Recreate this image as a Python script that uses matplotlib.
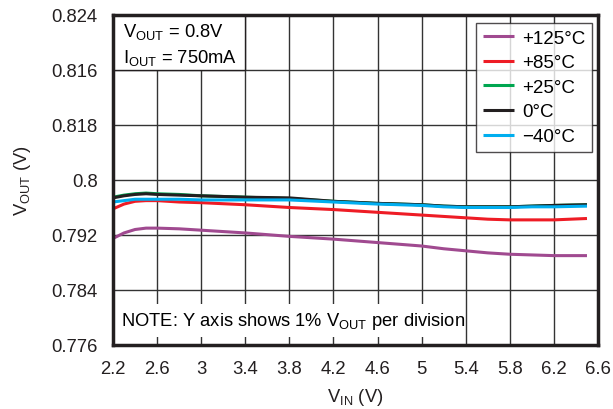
import matplotlib
matplotlib.use("Agg")
import matplotlib.pyplot as plt
from matplotlib.patches import Rectangle

plt.rcParams['font.family'] = ['Liberation Sans', 'DejaVu Sans']
plt.rcParams['mathtext.fontset'] = 'custom'
plt.rcParams['mathtext.rm'] = 'Liberation Sans'
plt.rcParams['mathtext.it'] = 'Liberation Sans:italic'
plt.rcParams['mathtext.bf'] = 'Liberation Sans:bold'

# Data
vin = [2.2, 2.3, 2.4, 2.5, 2.6, 2.8, 3.0, 3.4, 3.8, 4.2, 4.6, 5.0, 5.2, 5.4, 5.6, 5.8, 6.0, 6.2, 6.5]
t125 = [0.7915, 0.7923, 0.7928, 0.7930, 0.7930, 0.7929, 0.7927, 0.7923, 0.7918, 0.7914, 0.7909, 0.7904, 0.7900, 0.7897, 0.7894, 0.7892, 0.7891, 0.7890, 0.7890]
t85 = [0.7958, 0.7965, 0.7969, 0.7970, 0.7970, 0.7968, 0.7967, 0.7964, 0.7960, 0.7957, 0.7953, 0.7949, 0.7947, 0.7945, 0.7943, 0.7942, 0.7942, 0.7942, 0.7944]
t25 = [0.7975, 0.7978, 0.7980, 0.7981, 0.7980, 0.7979, 0.7977, 0.7975, 0.7973, 0.7969, 0.7966, 0.7964, 0.7962, 0.7961, 0.7961, 0.7961, 0.7962, 0.7963, 0.7964]
t0 = [0.7974, 0.7977, 0.7979, 0.7980, 0.7979, 0.7978, 0.7977, 0.7975, 0.7974, 0.7969, 0.7966, 0.7964, 0.7962, 0.7961, 0.7961, 0.7961, 0.7962, 0.7963, 0.7964]
tm40 = [0.7968, 0.7970, 0.7972, 0.7972, 0.7972, 0.7972, 0.7971, 0.7971, 0.7971, 0.7968, 0.7965, 0.7963, 0.7961, 0.7960, 0.7960, 0.7960, 0.7961, 0.7961, 0.7962]

series = [
    (t125, '#a04a90', '+125°C'),
    (t85, '#ee1c25', '+85°C'),
    (t25, '#00a650', '+25°C'),
    (t0, '#231f20', '0°C'),
    (tm40, '#00aeef', '\u221240°C'),
]

xticks = [2.2, 2.6, 3.0, 3.4, 3.8, 4.2, 4.6, 5.0, 5.4, 5.8, 6.2, 6.6]
xticklabels = ['2.2', '2.6', '3', '3.4', '3.8', '4.2', '4.6', '5', '5.4', '5.8', '6.2', '6.6']
yticks = [0.776, 0.784, 0.792, 0.800, 0.808, 0.816, 0.824]
yticklabels = ['0.776', '0.784', '0.792', '0.8', '0.818', '0.816', '0.824']

fig = plt.figure(figsize=(6.13, 4.10), dpi=100)
ax = fig.add_axes([113/613, 1-346/410, (598-113)/613, (346-16)/410])

ax.set_xlim(2.2, 6.6)
ax.set_ylim(0.776, 0.824)
ax.set_xticks(xticks)
ax.set_xticklabels(xticklabels)
ax.set_yticks(yticks)
ax.set_yticklabels(yticklabels)
ax.tick_params(length=0, labelsize=13.3, colors='#231f20')
ax.tick_params(axis='y', pad=11)
ax.tick_params(axis='x', pad=11)
ax.grid(True, color='#333333', linewidth=1.0, zorder=0)
ax.set_axisbelow(True)
for s in ax.spines.values():
    s.set_linewidth(2.5)
    s.set_color('#231f20')

# top-left annotation box
ax.add_patch(Rectangle((2.2, 0.816), 1.2, 0.008, facecolor='white',
                       edgecolor='#231f20', linewidth=1.0, zorder=1.5))
ax.text(2.29, 0.82167, r'V$_{\mathrm{OUT}}$ = 0.8V', fontsize=13.2, va='center', zorder=3)
ax.text(2.29, 0.81796, r'I$_{\mathrm{OUT}}$ = 750mA', fontsize=13.2, va='center', zorder=3)

# NOTE box
ax.add_patch(Rectangle((2.2, 0.7772), 3.15, 0.0048, facecolor='white',
                       edgecolor='none', zorder=1.5))
ax.text(2.27, 0.7795, r'NOTE: Y axis shows 1% V$_{\mathrm{OUT}}$ per division',
        fontsize=13.2, va='center', zorder=3)

for ys, c, lab in series:
    ax.plot(vin, ys, color=c, linewidth=2.2, label=lab, zorder=2,
            solid_capstyle='butt')

leg = ax.legend(loc='upper right', bbox_to_anchor=(0.988, 0.976), fontsize=13.5,
                frameon=True, fancybox=False, edgecolor='#231f20',
                handlelength=1.65, handletextpad=0.45, labelspacing=0.4,
                borderpad=0.35, borderaxespad=0)
leg.get_frame().set_linewidth(1.0)
leg.set_zorder(4)

ax.set_xlabel(r'V$_{\mathrm{IN}}$ (V)', fontsize=13.2, labelpad=6, color='#231f20')
ax.set_ylabel(r'V$_{\mathrm{OUT}}$ (V)', fontsize=13.2, labelpad=13, color='#231f20')

fig.savefig('out.png', dpi=100)
